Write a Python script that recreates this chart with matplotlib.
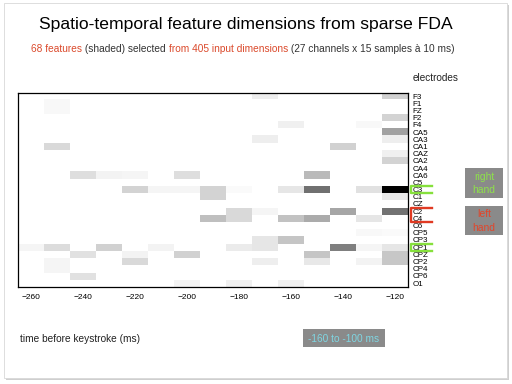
import numpy as np
import matplotlib
matplotlib.use("Agg")
import matplotlib.pyplot as plt
from matplotlib.patches import Rectangle
from matplotlib import transforms

plt.rcParams['font.family'] = ['Liberation Sans', 'DejaVu Sans']

channels = ['F3', 'F1', 'FZ', 'F2', 'F4',
            'CA5', 'CA3', 'CA1', 'CAZ', 'CA2', 'CA4', 'CA6',
            'C5', 'C3', 'C1', 'CZ', 'C2', 'C4', 'C6',
            'CP5', 'CP3', 'CP1', 'CPZ', 'CP2', 'CP4', 'CP6', 'O1']
times = np.arange(-260, -110, 10)  # 15 samples at 10 ms

# selected feature weights per channel: {column index: weight}
weights = [
    {9: .07, 14: .18},
    {1: .03},
    {1: .03},
    {14: .17},
    {10: .06, 13: .03},
    {14: .37},
    {9: .07, 14: .07},
    {1: .15, 12: .18},
    {14: .06},
    {14: .17},
    {},
    {2: .13, 3: .05, 4: .04, 6: .13, 11: .27},
    {},
    {4: .17, 5: .04, 6: .04, 7: .17, 8: .02, 10: .10, 11: .56, 13: .12, 14: 1.0},
    {7: .17, 14: .09},
    {},
    {8: .15, 9: .04, 12: .35, 14: .55},
    {7: .25, 8: .15, 10: .24, 11: .33, 13: .10},
    {},
    {13: .03, 14: .02},
    {9: .10, 10: .23},
    {0: .04, 1: .14, 3: .18, 5: .05, 8: .08, 9: .10, 12: .50, 13: .04, 14: .10},
    {2: .12, 4: .05, 6: .18, 11: .23, 14: .22},
    {1: .04, 4: .15, 9: .07, 11: .09, 13: .05, 14: .22},
    {1: .04},
    {2: .12},
    {6: .05, 8: .06, 10: .06},
]
xticks = np.arange(-260, -100, 20)

M = np.zeros((len(channels), len(times)))
for i, row in enumerate(weights):
    for j, v in row.items():
        M[i, j] = v

W, H = 512, 384
fig = plt.figure(figsize=(W / 100, H / 100), dpi=100)

def px(x, y):
    return x / W, 1 - y / H

# card with shadow
fig.add_artist(Rectangle(px(6, 380), 503 / W, 375 / H, transform=fig.transFigure,
                         facecolor='#cfcfcf', edgecolor='none', zorder=-3))
fig.add_artist(Rectangle(px(4, 378), 503 / W, 375 / H, transform=fig.transFigure,
                         facecolor='white', edgecolor='#d8d8d8', lw=0.6, zorder=-2))

ax = fig.add_axes([18 / W, 1 - 286.7 / H, 390 / W, 194.2 / H])
ax.imshow(M, cmap='gray_r', vmin=0, vmax=1, aspect='auto', interpolation='nearest',
          extent=[times[0] - 5, times[-1] + 5, len(channels) - 0.5, -0.5])
ax.set_xticks(xticks)
ax.set_xticklabels([f'\u2212{abs(t)}' for t in xticks], fontsize=6)
ax.set_yticks(range(len(channels)))
ax.set_yticklabels(channels, fontsize=5.8)
ax.yaxis.tick_right()
ax.tick_params(length=0)
ax.tick_params(axis='x', pad=5)
ax.tick_params(axis='y', pad=3)
for s in ax.spines.values():
    s.set_linewidth(0.9)

# brackets marking motor channels
tr = transforms.blended_transform_factory(ax.transAxes, ax.transData)
x0, x1 = 1.008, 1.062
for (a, b), c in [((12.5, 13.5), '#86e03c'), ((20.5, 21.5), '#86e03c'), ((15.5, 17.5), '#e03a22')]:
    ax.plot([x1, x0, x0, x1], [a, a, b, b], color=c, lw=1.7, transform=tr, clip_on=False)

# title and subtitle
fig.text(*px(246, 24), 'Spatio-temporal feature dimensions from sparse FDA',
         ha='center', va='center', fontsize=12.6)
parts = [('68 features', '#db4a2c'), (' (shaded) selected ', '#333333'),
         ('from 405 input dimensions', '#db4a2c'),
         (' (27 channels x 15 samples \u00e0 10 ms)', '#333333')]
r = fig.canvas.get_renderer()
texts = [fig.text(0, 0, s, color=c, fontsize=7.3, va='center') for s, c in parts]
widths = [t.get_window_extent(r).width for t in texts]
xpos = 243 - sum(widths) / 2
for t, w in zip(texts, widths):
    t.set_position(px(xpos, 49))
    xpos += w

fig.text(*px(413, 78), 'electrodes', fontsize=7.2, va='center', color='#222222')
fig.text(*px(20, 339), 'time before keystroke (ms)', fontsize=7.3, va='center', color='#222222')

# hand boxes
def box(x, y, w, h):
    fig.add_artist(Rectangle(px(x, y + h), w / W, h / H, transform=fig.transFigure,
                             facecolor='#8a8a8a', edgecolor='none'))

box(465, 168, 38, 30)
fig.text(*px(484, 177), 'right', color='#8ee24a', fontsize=7.5, ha='center', va='center')
fig.text(*px(484, 190), 'hand', color='#8ee24a', fontsize=7.5, ha='center', va='center')
box(465, 206, 38, 29)
fig.text(*px(484, 214), 'left', color='#e2452a', fontsize=7.5, ha='center', va='center')
fig.text(*px(484, 228), 'hand', color='#e2452a', fontsize=7.5, ha='center', va='center')
box(303, 329, 82, 18)
fig.text(*px(344, 338.5), '-160 to -100 ms', color='#7fd6e2', fontsize=7.3, ha='center', va='center')

fig.savefig('out.png', dpi=100)
